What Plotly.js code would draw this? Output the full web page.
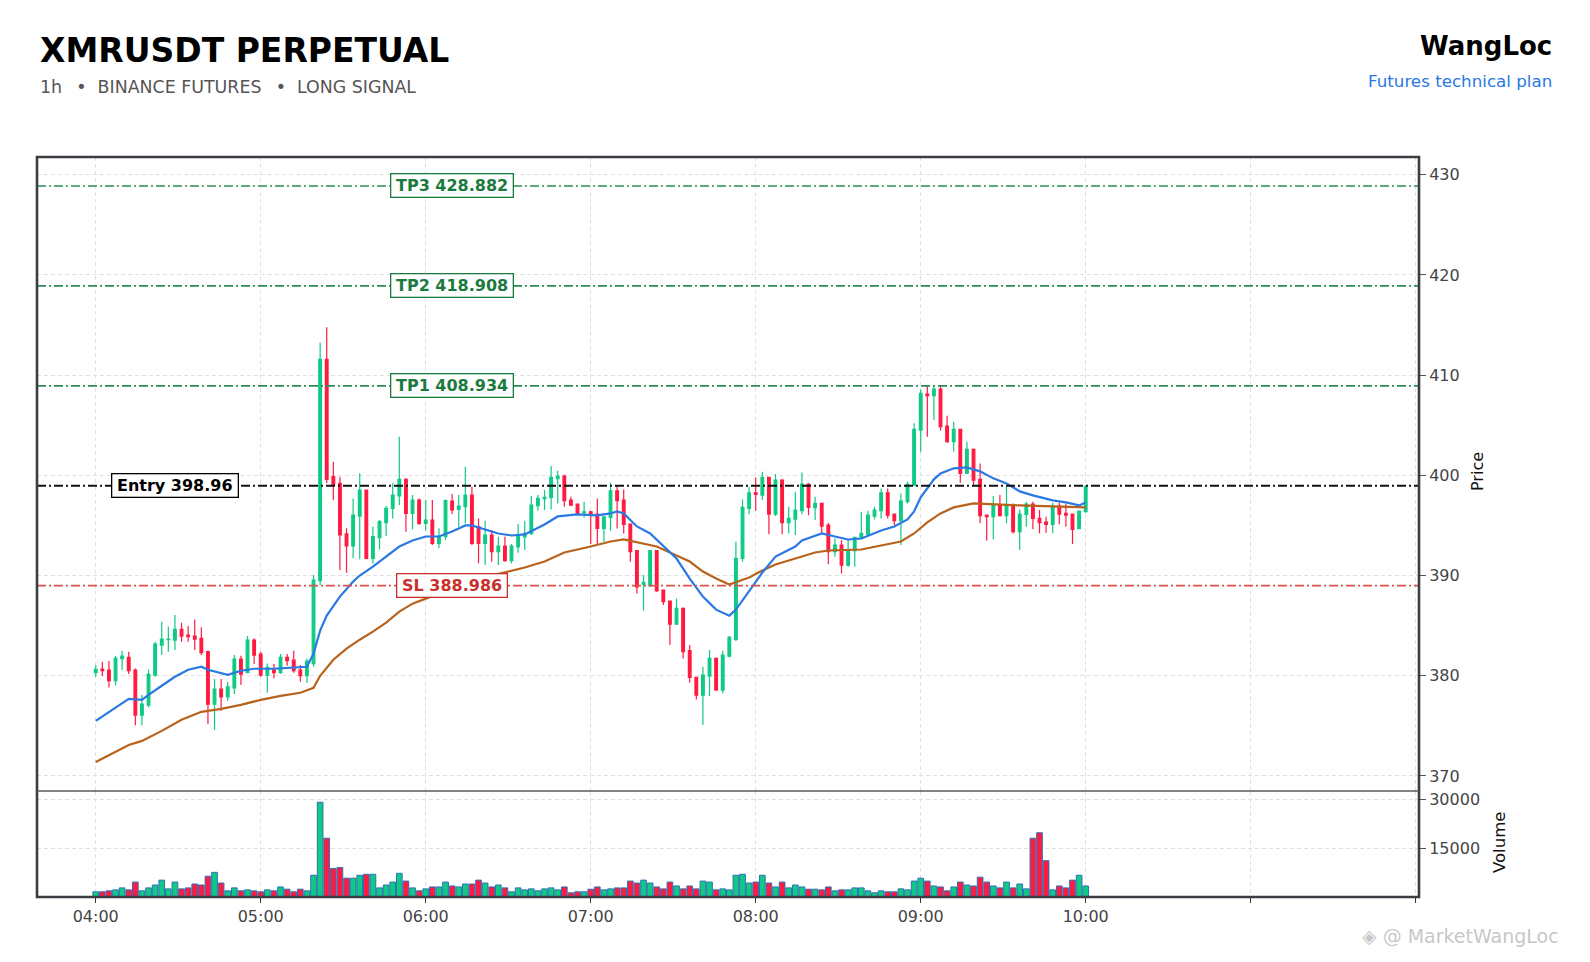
<!DOCTYPE html>
<html>
<head>
<meta charset="utf-8">
<script src="https://cdn.plot.ly/plotly-3.0.1.min.js"></script>
<style>
html,body{margin:0;padding:0;background:#ffffff;}
#chart{width:1590px;height:962px;}
</style>
</head>
<body>
<div id="chart"></div>
<script>
// ---------------- DATA ----------------
const tickPositions = [0, 25, 50, 75, 100, 125, 150, 175, 200];
const tickLabels = ['04:00', '05:00', '06:00', '07:00', '08:00', '09:00', '10:00', '', ''];
const priceTicks = [370, 380, 390, 400, 410, 420, 430];
const volumeTicks = [15000, 30000];
const volumeTickLabels = ['15000', '30000'];

const open = [
380.30,380.67,380.57,379.50,381.70,381.83,380.57,376.08,377.07,380.07,
383.06,383.60,383.56,384.63,384.06,383.96,383.73,382.40,377.17,378.67,
377.90,378.80,381.67,380.30,383.56,382.17,380.07,380.57,380.30,381.83,
381.56,380.57,380.00,381.20,389.50,411.58,399.87,399.20,394.15,392.95,
395.94,398.54,391.72,393.78,395.28,396.70,397.94,399.60,396.20,397.54,
395.21,395.54,393.20,393.88,397.44,396.60,396.87,398.04,394.88,393.20,
394.05,392.38,392.94,391.48,392.87,393.87,394.21,396.97,397.67,397.80,
399.66,399.93,397.53,397.13,396.27,396.37,396.13,394.70,395.80,398.46,
397.53,395.14,392.48,389.15,388.98,392.48,388.55,387.45,385.16,386.72,
382.50,379.83,378.07,379.97,381.73,378.57,381.96,383.63,391.71,396.70,
398.26,398.03,399.79,396.13,399.53,395.27,395.64,396.47,399.13,396.77,
397.20,395.04,392.38,393.04,391.04,392.48,393.81,394.14,395.93,396.47,
398.26,396.13,395.47,397.37,399.03,404.52,408.11,407.95,408.61,404.92,
403.36,404.59,400.20,402.59,399.60,396.04,395.87,397.04,395.97,397.04,
394.38,396.10,397.14,395.71,395.34,395.11,396.94,396.20,396.14,394.68,
396.37];

const high = [
381.07,381.40,381.47,381.96,382.46,382.40,380.73,378.07,380.63,383.40,
385.39,384.90,386.06,385.29,384.96,385.62,384.83,382.50,379.67,379.67,
379.40,382.06,382.00,383.96,383.73,382.40,381.23,381.17,382.17,382.17,
382.50,381.07,381.73,390.05,413.27,414.77,401.36,399.87,394.71,397.70,
400.20,398.60,394.88,395.54,396.94,399.20,403.86,399.70,398.04,397.70,
397.54,397.54,394.71,397.60,398.14,398.04,400.86,398.87,395.70,395.48,
394.54,393.88,393.87,393.14,395.14,395.47,397.93,398.03,398.53,400.93,
400.46,400.05,397.87,397.20,397.37,396.45,397.70,395.93,399.26,399.03,
398.60,395.20,392.55,390.05,392.55,392.55,388.60,387.50,387.72,386.80,
383.06,379.90,380.90,382.56,381.83,382.50,383.96,393.37,397.60,398.86,
399.79,400.36,399.85,400.13,399.60,396.87,398.36,400.29,399.20,397.87,
397.25,395.27,393.71,393.54,393.54,393.85,396.37,396.47,396.87,398.70,
398.70,396.20,398.20,399.37,405.19,408.58,409.01,409.01,409.01,405.95,
405.35,404.65,403.36,402.69,401.19,396.10,397.93,398.04,398.87,397.20,
396.60,397.37,397.37,396.54,395.87,397.27,397.27,397.20,396.20,396.44,
399.03];

const low = [
379.90,379.97,378.84,379.04,380.57,380.17,375.05,375.05,376.84,379.90,
382.06,382.40,382.56,383.40,383.40,382.56,382.06,375.18,374.58,376.50,
377.50,378.17,379.07,380.30,381.17,379.90,378.30,379.74,380.17,381.00,
380.30,379.40,379.30,380.90,389.05,399.20,397.54,390.55,390.29,391.72,
391.62,391.62,391.20,392.60,393.94,395.70,397.04,394.38,394.61,395.04,
394.50,393.05,392.72,393.55,396.14,394.88,395.21,393.05,391.22,391.05,
391.38,391.05,391.38,391.21,392.28,392.54,394.04,396.47,396.53,396.60,
397.20,396.87,396.93,396.13,395.80,393.14,393.14,393.37,394.47,394.70,
394.20,391.38,388.22,386.49,388.88,388.38,387.05,383.06,385.06,381.73,
379.30,377.64,375.08,377.97,378.50,378.24,381.83,383.46,391.38,396.13,
396.47,397.53,394.11,395.94,394.11,394.20,394.04,396.13,396.03,395.54,
394.14,391.14,391.88,390.21,390.88,390.88,393.71,394.04,395.60,395.70,
395.70,395.04,393.04,397.20,398.93,402.36,403.86,405.52,404.46,403.26,
402.36,399.27,400.13,399.03,395.21,393.48,393.61,395.90,395.21,394.20,
392.55,394.88,394.61,394.21,394.28,394.21,395.11,394.88,393.14,394.61,
396.27];

const close = [
380.63,380.50,379.50,381.73,381.96,380.50,376.08,377.17,380.14,383.16,
383.66,383.66,384.63,383.96,383.90,383.66,382.30,377.17,378.67,377.90,
378.90,381.67,380.17,383.56,382.06,380.07,380.83,380.30,381.83,381.50,
380.50,380.00,381.47,389.55,411.58,399.60,399.04,394.05,392.95,396.04,
398.54,391.72,393.88,395.38,396.70,398.04,399.60,396.20,397.54,395.21,
395.54,393.20,393.88,397.47,396.54,396.94,398.04,393.20,393.20,394.05,
392.38,392.95,391.48,392.94,393.94,394.21,397.03,397.70,397.80,399.79,
399.93,397.47,397.03,396.20,396.37,396.20,394.70,395.87,398.46,397.47,
395.10,392.38,388.88,389.32,392.48,388.48,387.39,385.16,386.72,382.40,
379.83,378.07,380.07,381.73,378.57,382.06,383.83,391.71,396.80,398.26,
398.10,399.79,396.13,399.53,395.27,395.70,396.53,399.13,396.80,397.20,
394.94,392.38,393.04,391.04,392.48,393.81,394.21,396.03,396.53,398.26,
396.03,395.47,397.44,399.10,404.59,408.18,407.95,408.61,404.85,403.36,
404.59,400.20,402.59,399.53,395.97,395.87,397.04,395.97,397.04,394.38,
396.14,397.14,395.71,395.27,395.11,396.94,396.14,396.04,394.61,396.44,
398.87];

const volume = [
1590,1590,1890,2190,2790,2190,4580,1890,2790,3680,
5170,2490,4580,2490,2790,3980,3680,6370,7560,4280,
1890,2790,1890,2190,1890,1590,2190,1890,3080,2390,
1590,2390,1890,6670,29050,18010,8760,9050,5770,5770,
6670,6970,6970,2790,3680,4580,7260,4880,2790,1890,
2490,3080,3080,4580,3380,3080,3980,3980,5170,4280,
3080,3680,2790,1590,2790,2190,2490,1890,2490,2790,
2190,3080,1290,1590,1590,2390,3080,2190,2490,2790,
2790,4880,4280,5170,4280,3080,2490,4580,3380,2490,
3380,2490,4880,4580,2190,2490,2190,6670,6970,4280,
4580,6670,4280,3080,4580,2790,3680,3080,2390,2390,
2190,3080,1890,2190,2190,2790,2790,1890,1290,1890,
1590,1590,2490,2190,4880,5770,4880,3380,3080,1890,
3080,4580,3680,3380,6070,4580,3380,2790,4580,2790,
3980,2490,18010,19700,11140,2190,3380,2790,5170,6670,
3380];

// fast moving average (blue), read at sampled candle indices
const fastIdx = [0,2,5,7,8,10,12,14,16,17,20,22,24,27,30,32,33,34,35,37,39,40,42,44,46,48,50,52,54,56,57,59,61,63,65,68,70,73,76,78,79,80,81,82,84,85,86,88,90,92,94,96,97,99,101,103,106,107,110,112,114,116,119,121,123,124,125,127,128,130,132,134,136,138,140,142,145,147,149,150];
const fastVal = [375.5,376.4,377.7,377.6,378.1,379.0,379.9,380.6,380.9,380.6,380.1,380.5,380.7,380.7,380.8,380.9,382.2,384.5,386.0,387.9,389.4,390.0,390.9,391.9,392.9,393.5,393.9,393.9,394.4,395.0,395.0,394.6,394.2,394.0,394.1,395.1,395.9,396.1,396.0,396.2,396.4,396.2,395.6,394.9,394.2,393.6,393.0,391.7,389.7,387.9,386.6,386.0,386.6,388.4,390.3,391.9,392.9,393.5,394.2,393.9,393.6,393.7,394.5,394.9,395.6,396.4,397.8,399.6,400.2,400.7,400.8,400.4,399.7,399.2,398.4,398.0,397.5,397.3,397.0,397.3];

// slow moving average (brown)
const slowIdx = [0,3,5,7,10,13,16,19,22,25,28,31,33,34,36,38,40,42,44,46,48,50,52,55,58,60,63,65,68,71,75,78,80,82,85,88,90,92,94,96,99,101,103,106,109,111,116,119,122,124,126,128,130,133,136,140,145,150];
const slowVal = [371.4,372.4,373.1,373.5,374.5,375.6,376.4,376.7,377.1,377.6,378.0,378.3,378.8,380.0,381.6,382.7,383.6,384.4,385.3,386.4,387.2,387.7,388.2,388.7,389.2,390.0,390.5,390.8,391.4,392.3,392.9,393.4,393.6,393.3,392.9,392.0,391.4,390.4,389.7,389.1,389.8,390.5,391.1,391.7,392.3,392.5,392.6,393.0,393.4,394.2,395.3,396.2,396.8,397.2,397.1,397.0,396.9,396.8];

// trade plan levels
const levelNames = ['TP3', 'TP2', 'TP1', 'Entry', 'SL'];
const levelValues = [428.882, 418.908, 408.934, 398.96, 388.986];
const levelLabelPos = [54, 54, 54, 12, 54]; // candle index where the tag sits

const titleText = 'XMRUSDT PERPETUAL';
const subtitleParts = ['1h', 'BINANCE FUTURES', 'LONG SIGNAL'];
const brandText = 'WangLoc';
const brandSub = 'Futures technical plan';

// ---------------- STYLE ----------------
const FONT = 'DejaVu Sans, Verdana, sans-serif';
const UP = '#0fca84';
const DOWN = '#ff1a40';
const levelLine = {TP3: '#2e8b57', TP2: '#2e8b57', TP1: '#2e8b57', Entry: '#111111', SL: '#d9534f'};
const levelText = {TP3: '#1b7a3d', TP2: '#1b7a3d', TP1: '#1b7a3d', Entry: '#000000', SL: '#c9302c'};

const W = 1590, H = 962;
const M = {l: 37, r: 171, t: 157, b: 65};
const PW = W - M.l - M.r, PH = H - M.t - M.b;
const pxX = x => (x - M.l) / PW;
const pxY = y => (H - M.b - y) / PH;
const VOL_FRAC = (H - M.b - 791) / PH;

const idx = open.map((_, i) => i);
const volColors = open.map((o, i) => close[i] >= o ? UP : DOWN);

const traces = [
  {
    type: 'candlestick', x: idx, open: open, high: high, low: low, close: close,
    xaxis: 'x', yaxis: 'y',
    increasing: {line: {color: UP, width: 1.2}, fillcolor: UP},
    decreasing: {line: {color: DOWN, width: 1.2}, fillcolor: DOWN},
    whiskerwidth: 0, showlegend: false, hoverinfo: 'skip'
  },
  {
    type: 'scatter', mode: 'lines', x: slowIdx, y: slowVal, xaxis: 'x', yaxis: 'y',
    line: {color: '#b8621b', width: 2.2}, showlegend: false, hoverinfo: 'skip'
  },
  {
    type: 'scatter', mode: 'lines', x: fastIdx, y: fastVal, xaxis: 'x', yaxis: 'y',
    line: {color: '#2a78e4', width: 2.2}, showlegend: false, hoverinfo: 'skip'
  },
  {
    type: 'bar', x: idx, y: volume, xaxis: 'x', yaxis: 'y2', width: 0.86,
    marker: {color: volColors, line: {color: '#2f6fb8', width: 1}},
    showlegend: false, hoverinfo: 'skip'
  }
];

const tickFont = {family: FONT, size: 16, color: '#444444'};
const gridStyle = {showgrid: true, gridcolor: '#e1e1e1', gridwidth: 1, griddash: '4px,3px', zeroline: false, showline: false};

const shapes = [];
const annotations = [];

levelNames.forEach((name, k) => {
  shapes.push({
    type: 'line', xref: 'paper', yref: 'y', x0: 0, x1: 1, y0: levelValues[k], y1: levelValues[k],
    line: {color: levelLine[name], width: name === 'Entry' || name === 'SL' ? 1.8 : 1.6, dash: '9px,3px,2px,3px'}
  });
  annotations.push({
    xref: 'x', yref: 'y', x: levelLabelPos[k], y: levelValues[k], xanchor: 'center', yanchor: 'middle',
    text: '<b>\u2009' + name + ' ' + levelValues[k] + '\u2009</b>', showarrow: false,
    font: {family: FONT, size: 16, color: levelText[name]},
    bgcolor: '#ffffff', bordercolor: levelText[name], borderwidth: 1.3, borderpad: 1.5
  });
});

// frame and panel separator
shapes.push({type: 'rect', xref: 'paper', yref: 'paper', x0: 0, x1: 1, y0: 0, y1: 1,
  line: {color: '#3a3d42', width: 2.6}});
shapes.push({type: 'line', xref: 'paper', yref: 'paper', x0: 0, x1: 1, y0: VOL_FRAC, y1: VOL_FRAC,
  line: {color: '#5a5a5a', width: 1.4}});

// header texts
annotations.push({xref: 'paper', yref: 'paper', x: pxX(38), y: pxY(29), xanchor: 'left', yanchor: 'top',
  text: '<b>' + titleText + '</b>', showarrow: false, font: {family: FONT, size: 33, color: '#000000'}});
annotations.push({xref: 'paper', yref: 'paper', x: pxX(38), y: pxY(75), xanchor: 'left', yanchor: 'top',
  text: subtitleParts.join('\u00a0\u2002•\u00a0\u00a0'), showarrow: false, font: {family: FONT, size: 17.4, color: '#555555'}});
annotations.push({xref: 'paper', yref: 'paper', x: pxX(1554), y: pxY(29.5), xanchor: 'right', yanchor: 'top',
  text: '<b>' + brandText + '</b>', showarrow: false, font: {family: FONT, size: 26, color: '#000000'}});
annotations.push({xref: 'paper', yref: 'paper', x: pxX(1554), y: pxY(69), xanchor: 'right', yanchor: 'top',
  text: brandSub, showarrow: false, font: {family: FONT, size: 16.7, color: '#2a78e4'}});

// axis titles
annotations.push({xref: 'paper', yref: 'paper', x: pxX(1477), y: pxY(472), xanchor: 'center', yanchor: 'middle',
  text: 'Price', textangle: -90, showarrow: false, font: {family: FONT, size: 16, color: '#111111'}});
annotations.push({xref: 'paper', yref: 'paper', x: pxX(1499), y: pxY(843), xanchor: 'center', yanchor: 'middle',
  text: 'Volume', textangle: -90, showarrow: false, font: {family: FONT, size: 16.5, color: '#111111'}});

// watermark
annotations.push({xref: 'paper', yref: 'paper', x: pxX(1360), y: pxY(936), xanchor: 'left', yanchor: 'middle',
  text: '◈ @ MarketWangLoc', showarrow: false, font: {family: FONT, size: 19, color: 'rgba(150,150,150,0.55)'}});

const layout = {
  width: W, height: H, autosize: false,
  margin: M,
  paper_bgcolor: '#ffffff', plot_bgcolor: '#ffffff',
  showlegend: false,
  boxgap: 0.42,
  bargap: 0.1,
  xaxis: Object.assign({
    domain: [0, 1], range: [-8.9, 200.5], anchor: 'y2', type: 'linear',
    tickmode: 'array', tickvals: tickPositions, ticktext: tickLabels,
    ticks: 'outside', ticklen: 5, tickwidth: 1, tickcolor: '#333333',
    tickfont: tickFont, rangeslider: {visible: false}, fixedrange: true
  }, gridStyle),
  yaxis: Object.assign({
    domain: [VOL_FRAC, 1], range: [368.5, 431.77], side: 'right', anchor: 'x',
    tickmode: 'array', tickvals: priceTicks, ticktext: priceTicks.map(String),
    ticks: 'outside', ticklen: 6, tickwidth: 1, tickcolor: '#555555',
    tickfont: tickFont, fixedrange: true
  }, gridStyle),
  yaxis2: Object.assign({
    domain: [0, VOL_FRAC], range: [0, 32500], side: 'right', anchor: 'x',
    tickmode: 'array', tickvals: volumeTicks, ticktext: volumeTickLabels,
    ticks: 'outside', ticklen: 6, tickwidth: 1, tickcolor: '#555555',
    tickfont: tickFont, fixedrange: true
  }, gridStyle),
  shapes: shapes,
  annotations: annotations
};

Plotly.newPlot('chart', traces, layout, {displayModeBar: false, staticPlot: true});
</script>
</body>
</html>
